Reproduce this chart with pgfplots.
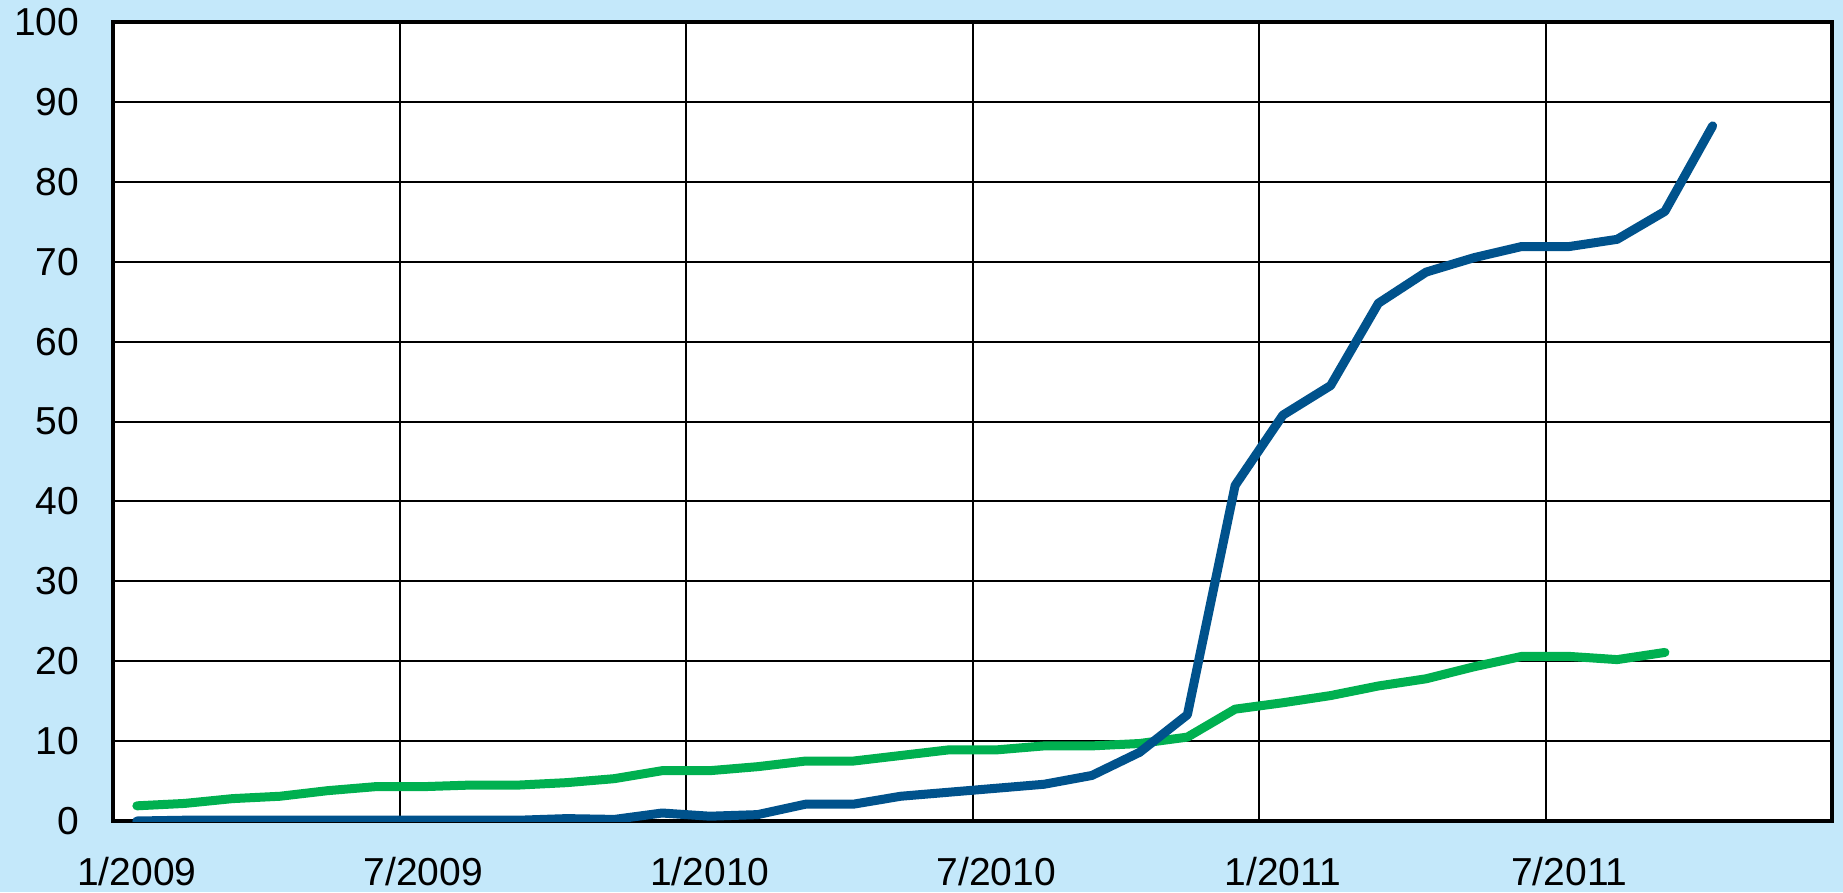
\documentclass[border=0pt]{standalone}
\usepackage{fontspec}
\setmainfont{Liberation Sans}
\usepackage{pgfplots}
\pgfplotsset{compat=1.18}
\definecolor{bg}{RGB}{196,232,250}
\definecolor{lblue}{RGB}{0,82,140}
\definecolor{lgreen}{RGB}{0,176,80}
\begin{document}
\begin{tikzpicture}
\path[use as bounding box, fill=bg] (0,0) rectangle (552.9pt,267.6pt);
\begin{axis}[
  at={(33.9pt,21.3pt)}, anchor=south west,
  scale only axis, width=515.7pt, height=239.7pt,
  xmin=0, xmax=36, ymin=0, ymax=100,
  xtick={0,6,...,36},
  xticklabels={1/2009,7/2009,1/2010,7/2010,1/2011,7/2011,},
  ytick={0,10,...,100},
  grid=major,
  major grid style={black, line width=0.6pt},
  axis line style={black, line width=1.1pt},
  tick style={draw=none},
  axis background/.style={fill=white},
  font=\fontsize{11.7}{14}\selectfont,
  /pgf/number format/assume math mode=true,
  xticklabel style={xshift=7.16pt, yshift=-7.2pt},
  yticklabel style={xshift=-6.6pt},
]
\addplot[lgreen, line width=2.7pt, line cap=round, line join=round] coordinates {
(0.5,1.9)(1.5,2.2)(2.5,2.8)(3.5,3.1)(4.5,3.8)(5.5,4.3)(6.5,4.3)(7.5,4.5)(8.5,4.5)(9.5,4.8)
(10.5,5.3)(11.5,6.3)(12.5,6.3)(13.5,6.8)(14.5,7.5)(15.5,7.5)(16.5,8.2)(17.5,8.9)(18.5,8.9)(19.5,9.4)
(20.5,9.4)(21.5,9.7)(22.5,10.5)(23.5,14.0)(24.5,14.8)(25.5,15.7)(26.5,16.9)(27.5,17.8)(28.5,19.3)(29.5,20.6)
(30.5,20.6)(31.5,20.2)(32.5,21.1)};
\addplot[lblue, line width=2.7pt, line cap=round, line join=round] coordinates {
(0.5,0)(1.5,0.1)(2.5,0.1)(3.5,0.1)(4.5,0.1)(5.5,0.1)(6.5,0.1)(7.5,0.1)(8.5,0.1)(9.5,0.3)
(10.5,0.2)(11.5,1.0)(12.5,0.6)(13.5,0.8)(14.5,2.1)(15.5,2.1)(16.5,3.1)(17.5,3.6)(18.5,4.1)(19.5,4.6)
(20.5,5.7)(21.5,8.6)(22.5,13.3)(23.5,42.0)(24.5,50.8)(25.5,54.5)(26.5,64.8)(27.5,68.7)(28.5,70.5)(29.5,71.9)
(30.5,71.9)(31.5,72.8)(32.5,76.3)(33.5,87.0)};
\end{axis}
\end{tikzpicture}
\end{document}
